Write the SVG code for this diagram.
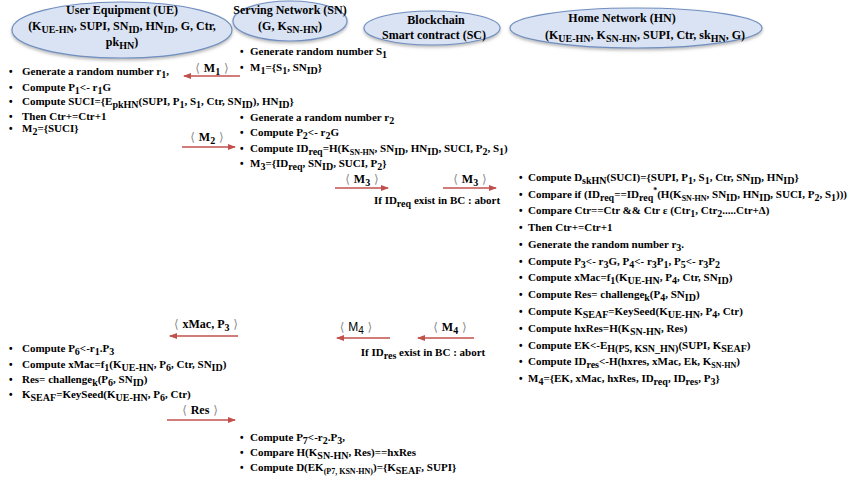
<svg xmlns="http://www.w3.org/2000/svg" width="864" height="481" viewBox="0 0 864 481">
<defs>
<style>
text{font-family:"Liberation Serif","Times New Roman",serif;font-size:11px;font-weight:bold;fill:#000}
.h{font-size:12px;text-anchor:middle}
.s{font-size:10px;baseline-shift:-3px}
.ss{font-size:8px;baseline-shift:-3px}
.sup{font-size:8px;baseline-shift:5px}
.bu{font-family:"Liberation Sans",Arial,sans-serif;font-size:10px}
.lb{text-anchor:middle;font-size:12px}
.br{font-family:"DejaVu Sans",sans-serif;font-weight:normal;fill:#8a8a8a;font-size:12px}
.sans{font-family:"Liberation Sans",Arial,sans-serif;font-weight:normal}
.node{fill:#dae3f3;stroke:#6f8fc0;stroke-width:1.2;filter:url(#sh)}
.arr{stroke:#c0504d;stroke-width:1.6;fill:none;marker-end:url(#ah)}
</style>
<marker id="ah" markerWidth="8" markerHeight="6" refX="7" refY="3" orient="auto" markerUnits="userSpaceOnUse">
<path d="M0,0 L8,3 L0,6 Z" fill="#c0504d"/>
</marker>
<filter id="sh" x="-10%" y="-20%" width="120%" height="150%">
<feDropShadow dx="0" dy="2" stdDeviation="1.5" flood-color="#777" flood-opacity="0.5"/>
</filter>
</defs>

<g id="ue">
<ellipse class="node" cx="122" cy="30" rx="110" ry="28"/>
<text class="h" x="122" y="14">User Equipment (UE)</text>
<text class="h" x="122" y="30">(K<tspan class="s">UE-HN</tspan>, SUPI, SN<tspan class="s">ID</tspan>, HN<tspan class="s">ID</tspan>, G, Ctr,</text>
<text class="h" x="122" y="46">pk<tspan class="s">HN</tspan>)</text>
</g>
<g id="sn">
<ellipse class="node" cx="290" cy="21" rx="57" ry="20"/>
<text class="h" x="290" y="14">Serving Network (SN)</text>
<text class="h" x="290" y="30">(G, K<tspan class="s">SN-HN</tspan>)</text>
</g>
<g id="bc">
<ellipse class="node" cx="432" cy="28" rx="68" ry="17"/>
<text class="h" x="436" y="24">Blockchain</text>
<text class="h" x="434" y="39">Smart contract (SC)</text>
</g>
<g id="hn">
<ellipse class="node" cx="636" cy="28" rx="126" ry="20"/>
<text class="h" x="622" y="22">Home Network (HN)</text>
<text class="h" x="645" y="39">(K<tspan class="s">UE-HN</tspan>, K<tspan class="s">SN-HN</tspan>, SUPI, Ctr, sk<tspan class="s">HN</tspan>, G)</text>
</g>

<g id="sn-steps1">
<text x="240" y="55"><tspan class="bu">•</tspan><tspan x="250">Generate random number  S<tspan class="s">1</tspan></tspan></text>
<text x="240" y="71"><tspan class="bu">•</tspan><tspan x="250">M<tspan class="s">1</tspan>={S<tspan class="s">1</tspan>, SN<tspan class="s">ID</tspan>}</tspan></text>
</g>

<g id="ue-steps1">
<text x="9" y="75"><tspan class="bu">•</tspan><tspan x="22">Generate a random number r<tspan class="s">1</tspan>,</tspan></text>
<text x="9" y="91"><tspan class="bu">•</tspan><tspan x="22">Compute P<tspan class="s">1</tspan>&lt;- r<tspan class="s">1</tspan>G</tspan></text>
<text x="9" y="105"><tspan class="bu">•</tspan><tspan x="22">Compute SUCI={E<tspan class="s">pkHN</tspan>(SUPI, P<tspan class="s">1</tspan>, S<tspan class="s">1</tspan>, Ctr,  SN<tspan class="s">ID</tspan>), HN<tspan class="s">ID</tspan>}</tspan></text>
<text x="9" y="120"><tspan class="bu">•</tspan><tspan x="22">Then Ctr+=Ctr+1</tspan></text>
<text x="9" y="132"><tspan class="bu">•</tspan><tspan x="22">M<tspan class="s">2</tspan>={SUCI}</tspan></text>
</g>

<g id="sn-steps2">
<text x="240" y="121"><tspan class="bu">•</tspan><tspan x="250">Generate a random number r<tspan class="s">2</tspan></tspan></text>
<text x="240" y="136"><tspan class="bu">•</tspan><tspan x="250">Compute  P<tspan class="s">2</tspan>&lt;- r<tspan class="s">2</tspan>G</tspan></text>
<text x="240" y="152"><tspan class="bu">•</tspan><tspan x="250">Compute ID<tspan class="s">req</tspan>=H(K<tspan class="ss">SN-HN</tspan>, SN<tspan class="s">ID</tspan>, HN<tspan class="s">ID</tspan>, SUCI, P<tspan class="s">2</tspan>, S<tspan class="s">1</tspan>)</tspan></text>
<text x="240" y="167"><tspan class="bu">•</tspan><tspan x="250">M<tspan class="s">3</tspan>={ID<tspan class="s">req</tspan>, SN<tspan class="s">ID</tspan>, SUCI, P<tspan class="s">2</tspan>}</tspan></text>
</g>

<g id="hn-steps">
<text x="519" y="181"><tspan class="bu">•</tspan><tspan x="528">Compute D<tspan class="s">skHN</tspan>(SUCI)={SUPI, P<tspan class="s">1</tspan>, S<tspan class="s">1</tspan>, Ctr, SN<tspan class="s">ID</tspan>, HN<tspan class="s">ID</tspan>}</tspan></text>
<text x="519" y="198"><tspan class="bu">•</tspan><tspan x="528">Compare if (ID<tspan class="s">req</tspan>==ID<tspan class="s">req</tspan><tspan class="sup">*</tspan>(H(K<tspan class="ss">SN-HN</tspan>, SN<tspan class="s">ID</tspan>, HN<tspan class="s">ID</tspan>, SUCI, P<tspan class="s">2</tspan>, S<tspan class="s">1</tspan>)))</tspan></text>
<text x="519" y="214"><tspan class="bu">•</tspan><tspan x="528">Compare Ctr==Ctr &amp;&amp; Ctr ε (Ctr<tspan class="s">1</tspan>, Ctr<tspan class="s">2</tspan>.....Ctr+Δ)</tspan></text>
<text x="519" y="231"><tspan class="bu">•</tspan><tspan x="528">Then Ctr+=Ctr+1</tspan></text>
<text x="519" y="248"><tspan class="bu">•</tspan><tspan x="528">Generate the random number r<tspan class="s">3</tspan>.</tspan></text>
<text x="519" y="265"><tspan class="bu">•</tspan><tspan x="528">Compute P<tspan class="s">3</tspan>&lt;- r<tspan class="s">3</tspan>G, P<tspan class="s">4</tspan>&lt;- r<tspan class="s">3</tspan>P<tspan class="s">1</tspan>, P<tspan class="s">5</tspan>&lt;- r<tspan class="s">3</tspan>P<tspan class="s">2</tspan></tspan></text>
<text x="519" y="281"><tspan class="bu">•</tspan><tspan x="528">Compute xMac=f<tspan class="s">1</tspan>(K<tspan class="s">UE-HN</tspan>, P<tspan class="s">4</tspan>, Ctr, SN<tspan class="s">ID</tspan>)</tspan></text>
<text x="519" y="298"><tspan class="bu">•</tspan><tspan x="528">Compute Res= challenge<tspan class="s">k</tspan>(P<tspan class="s">4</tspan>, SN<tspan class="s">ID</tspan>)</tspan></text>
<text x="519" y="315"><tspan class="bu">•</tspan><tspan x="528">Compute K<tspan class="s">SEAF</tspan>=KeySeed(K<tspan class="s">UE-HN</tspan>, P<tspan class="s">4</tspan>, Ctr)</tspan></text>
<text x="519" y="332"><tspan class="bu">•</tspan><tspan x="528">Compute hxRes=H(K<tspan class="s">SN-HN</tspan>, Res)</tspan></text>
<text x="519" y="349"><tspan class="bu">•</tspan><tspan x="528">Compute EK&lt;-E<tspan class="s">H(P5, KSN_HN)</tspan>(SUPI, K<tspan class="s">SEAF</tspan>)</tspan></text>
<text x="519" y="365"><tspan class="bu">•</tspan><tspan x="528">Compute ID<tspan class="s">res</tspan>&lt;-H(hxres, xMac, Ek, K<tspan class="ss">SN-HN</tspan>)</tspan></text>
<text x="519" y="382"><tspan class="bu">•</tspan><tspan x="528">M<tspan class="s">4</tspan>={EK, xMac, hxRes, ID<tspan class="s">req</tspan>, ID<tspan class="s">res</tspan>, P<tspan class="s">3</tspan>}</tspan></text>
</g>

<g id="ue-steps2">
<text x="9" y="352"><tspan class="bu">•</tspan><tspan x="22">Compute P<tspan class="s">6</tspan>&lt;-r<tspan class="s">1</tspan>.P<tspan class="s">3</tspan></tspan></text>
<text x="9" y="368"><tspan class="bu">•</tspan><tspan x="22">Compute xMac=f<tspan class="s">1</tspan>(K<tspan class="s">UE-HN</tspan>, P<tspan class="s">6</tspan>, Ctr, SN<tspan class="s">ID</tspan>)</tspan></text>
<text x="9" y="383"><tspan class="bu">•</tspan><tspan x="22">Res= challenge<tspan class="s">k</tspan>(P<tspan class="s">6</tspan>, SN<tspan class="s">ID</tspan>)</tspan></text>
<text x="9" y="398"><tspan class="bu">•</tspan><tspan x="22">K<tspan class="s">SEAF</tspan>=KeySeed(K<tspan class="s">UE-HN</tspan>, P<tspan class="s">6</tspan>, Ctr)</tspan></text>
</g>

<g id="sn-steps3">
<text x="240" y="441"><tspan class="bu">•</tspan><tspan x="250">Compute P<tspan class="s">7</tspan>&lt;-r<tspan class="s">2</tspan>.P<tspan class="s">3</tspan>,</tspan></text>
<text x="240" y="456"><tspan class="bu">•</tspan><tspan x="250">Compare H(K<tspan class="s">SN-HN</tspan>, Res)==hxRes</tspan></text>
<text x="240" y="471"><tspan class="bu">•</tspan><tspan x="250">Compute D(EK<tspan class="ss">(P7, KSN-HN)</tspan>)={K<tspan class="s">SEAF</tspan>, SUPI}</tspan></text>
</g>

<g id="bc-notes">
<text x="437" y="204" text-anchor="middle">If ID<tspan class="s">req</tspan> exist in BC : abort</text>
<text x="423" y="356" text-anchor="middle">If ID<tspan class="s">res</tspan> exist in BC : abort</text>
</g>

<g id="connectors">
<path class="arr" d="M240,76 H184"/>
<text class="lb" x="212" y="72"><tspan class="br">⟨ </tspan>M<tspan class="s">1</tspan><tspan class="br"> ⟩</tspan></text>
<path class="arr" d="M182,147 H235"/>
<text class="lb" x="207" y="141"><tspan class="br">⟨ </tspan>M<tspan class="s">2</tspan><tspan class="br"> ⟩</tspan></text>
<path class="arr" d="M335,188 H388"/>
<text class="lb" x="362" y="183"><tspan class="br">⟨ </tspan>M<tspan class="s">3</tspan><tspan class="br"> ⟩</tspan></text>
<path class="arr" d="M443,188 H496"/>
<text class="lb" x="470" y="183"><tspan class="br">⟨ </tspan>M<tspan class="s">3</tspan><tspan class="br"> ⟩</tspan></text>
<path class="arr" d="M474,338 H418"/>
<text class="lb" x="450" y="331"><tspan class="br">⟨  </tspan>M<tspan class="s">4</tspan><tspan class="br">  ⟩</tspan></text>
<path class="arr" d="M390,338 H337"/>
<text class="lb" x="356" y="331"><tspan class="br">⟨  </tspan><tspan class="sans">M<tspan class="s">4</tspan></tspan><tspan class="br">  ⟩</tspan></text>
<path class="arr" d="M238,336 H170"/>
<text class="lb" x="206" y="328"><tspan class="br">⟨ </tspan>xMac, P<tspan class="s">3</tspan><tspan class="br"> ⟩</tspan></text>
<path class="arr" d="M167,420 H235"/>
<text class="lb" x="200" y="414"><tspan class="br">⟨  </tspan>Res<tspan class="br">  ⟩</tspan></text>
</g>
</svg>
